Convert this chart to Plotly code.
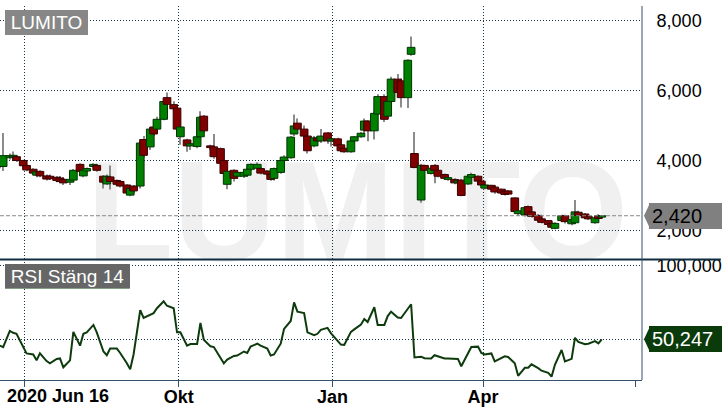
import pandas as pd
import plotly.graph_objects as go

# ---------------- data ----------------
# one sample every second trading day, 2020-06-16 .. 2021-06-11
dates = pd.bdate_range("2020-06-16", "2021-06-11")[::2]

open_ = [3940, 3830, 4080, 4100, 4110, 4000, 3860, 3750, 3580, 3690,
         3560, 3550, 3520, 3500, 3460, 3380, 3440, 3890, 3560, 3700,
         3830, 3860, 3550, 3330, 3530, 3430, 3400, 3300, 3010, 3270,
         3270, 4600, 4390, 4960, 4900, 5180, 5800, 5600, 5500, 4680,
         4590, 4420, 4400, 4680, 5270, 4420, 4390, 4340, 4000, 3320,
         3720, 3550, 3550, 3580, 3750, 3780, 3770, 3700, 3600, 3490,
         3660, 4000, 4080, 4760, 5070, 4900, 4700, 4420, 4640, 4560,
         4790, 4560, 4620, 4450, 4350, 4250, 4560, 4680, 4870, 5130,
         4850, 5330, 5830, 5270, 5690, 6330, 6280, 5800, 7040, 4200,
         2870, 3860, 3630, 3860, 3720, 3600, 3460, 3460, 3360, 3440,
         3330, 3520, 3550, 3410, 3210, 3290, 3240, 3180, 3120, 3130,
         2930, 2480, 2440, 2680, 2530, 2430, 2330, 2280, 2200, 2060,
         2280, 2420, 2190, 2220, 2520, 2470, 2400, 2220, 2420, 2380]
high = [3980, 4790, 4200, 4260, 4150, 4020, 3880, 3780, 3700, 3720,
        3600, 3600, 3560, 3560, 3520, 3500, 3760, 3920, 3740, 3800,
        3920, 3880, 3580, 3600, 3860, 3460, 3420, 3320, 3230, 3300,
        4600, 4700, 4950, 5100, 5250, 5750, 5950, 5700, 5560, 5000,
        4620, 4520, 4720, 5410, 5300, 4450, 4760, 4380, 4030, 3720,
        3750, 3700, 3690, 3780, 3920, 3950, 3800, 3730, 3620, 3800,
        4050, 4150, 4700, 5320, 5200, 5000, 4750, 4700, 4700, 4900,
        4820, 4660, 4650, 4480, 4400, 4600, 4700, 4820, 5200, 5150,
        5400, 5900, 5900, 5750, 6400, 6480, 6350, 6900, 7550, 4820,
        3900, 3880, 3800, 3900, 3750, 3630, 3550, 3490, 3450, 3480,
        3580, 3650, 3580, 3440, 3330, 3310, 3270, 3200, 3150, 3160,
        2950, 2580, 2700, 2710, 2560, 2460, 2360, 2300, 2230, 2230,
        2450, 2450, 2350, 2870, 2560, 2500, 2430, 2380, 2460, 2440]
low = [3780, 3700, 4030, 4050, 3960, 3800, 3690, 3600, 3520, 3520,
       3430, 3440, 3380, 3360, 3300, 3300, 3400, 3660, 3520, 3680,
       3800, 3680, 3200, 3300, 3170, 3280, 3230, 3040, 2980, 3060,
       3200, 4080, 4300, 4700, 4850, 5150, 5550, 5400, 4850, 4450,
       4250, 4300, 4350, 4650, 4800, 4300, 4050, 3880, 3600, 3180,
       3400, 3480, 3500, 3540, 3700, 3750, 3600, 3570, 3420, 3430,
       3620, 3980, 4050, 4700, 4850, 4650, 4200, 4380, 4500, 4500,
       4480, 4400, 4380, 4250, 4220, 4220, 4520, 4650, 4750, 4550,
       4600, 5300, 5100, 5200, 5650, 5900, 5520, 5500, 7000, 3780,
       2790, 3680, 3600, 3350, 3520, 3450, 3420, 3320, 3330, 2980,
       3300, 3490, 3380, 3270, 3180, 3150, 3050, 3040, 3000, 3010,
       2500, 2420, 2400, 2420, 2360, 2250, 2200, 2130, 2030, 2030,
       2250, 2200, 2150, 2190, 2400, 2330, 2300, 2190, 2310, 2360]
close = [3830, 4140, 4140, 4150, 4000, 3850, 3730, 3640, 3680, 3560,
         3470, 3480, 3430, 3400, 3360, 3460, 3720, 3690, 3720, 3770,
         3890, 3720, 3380, 3550, 3400, 3320, 3270, 3070, 3200, 3130,
         4500, 4150, 4900, 4760, 5180, 5690, 5610, 5480, 4900, 4960,
         4420, 4480, 4680, 5240, 4850, 4370, 4110, 3920, 3630, 3690,
         3490, 3660, 3660, 3750, 3890, 3890, 3640, 3610, 3460, 3770,
         4000, 4100, 4670, 4990, 4900, 4700, 4280, 4650, 4560, 4700,
         4560, 4620, 4420, 4280, 4250, 4560, 4680, 4780, 5130, 4850,
         5350, 5830, 5180, 5690, 6330, 5950, 5800, 6870, 7240, 3800,
         3860, 3720, 3780, 3720, 3550, 3490, 3510, 3360, 3420, 3000,
         3550, 3600, 3410, 3300, 3300, 3180, 3100, 3070, 3030, 3040,
         2540, 2560, 2650, 2450, 2400, 2290, 2230, 2170, 2090, 2200,
         2420, 2250, 2310, 2530, 2430, 2360, 2330, 2360, 2340, 2420]
rsi = [46, 45, 56, 54.7, 54, 45, 40.7, 40, 36, 40.7,
       35.5, 34, 37, 37.3, 31.3, 36, 55.3, 46, 54, 55,
       60, 55, 42, 39.5, 44, 44, 41, 34, 30, 40,
       70, 64.7, 67, 68, 71.3, 76, 73, 71.3, 55, 55,
       46, 47, 47, 61.3, 50, 45.5, 45, 38, 34, 36.5,
       39, 39.3, 42, 41, 45.3, 47.3, 46, 44, 39.3, 40,
       47.3, 57.3, 62.7, 75.3, 69, 68, 55, 53, 54, 56.7,
       58, 54.5, 49.3, 46.7, 46.5, 55.3, 57, 60.3, 64, 62,
       72, 60, 60, 66, 69, 65, 64.7, 71.3, 74, 38,
       38.5, 37.5, 37.3, 39.5, 38.7, 37.3, 37.3, 37.3, 37, 32,
       40.5, 45, 45.3, 41, 40, 40.7, 35.3, 37.8, 38.7, 38.3,
       34, 25.5, 31, 31, 33.3, 30.7, 29, 27.5, 25, 33,
       43, 35.3, 37, 51.3, 48.5, 47, 47.3, 49, 47.5, 50.247]

price_ticks = [2000, 4000, 6000, 8000]
price_tick_text = ["2,000", "4,000", "6,000", "8,000"]
rsi_ticks = [50, 100]
rsi_tick_text = ["50,000", "100,000"]
x_ticks = ["2020-07-01", "2020-10-01", "2021-01-01", "2021-04-01"]
x_tick_text = ["", "<b>Okt</b>", "<b>Jan</b>", "<b>Apr</b>"]
start_label = "2020 Jun 16"
name = "LUMITO"
rsi_name = "RSI Stäng 14"

# ---------------- figure ----------------
n = len(close)
dates = dates[:n]
DAY = 86400000
up = [c >= o for o, c in zip(open_, close)]
body_base = [min(o, c) for o, c in zip(open_, close)]
body_h = [abs(c - o) for o, c in zip(open_, close)]
wick_h = [h - l for h, l in zip(high, low)]
body_fill = ["#008000" if u else "#800000" for u in up]
body_line = ["#003300" if u else "#3a0000" for u in up]

GRID = "#163447"
NAVY = "#34506b"
FONT = "Liberation Sans, Arial, sans-serif"
PRICE_BADGE = "#808080"
RSI_BADGE = "#0b3a0b"

fig = go.Figure()
fig.add_trace(go.Bar(x=dates, y=wick_h, base=low, width=0.6 * DAY,
                     marker=dict(color="#8c8c8c", line=dict(width=0)),
                     xaxis="x", yaxis="y", hoverinfo="skip"))
fig.add_trace(go.Bar(x=dates, y=body_h, base=body_base, width=4.6 * DAY,
                     marker=dict(color=body_fill, line=dict(color=body_line, width=1)),
                     xaxis="x", yaxis="y"))
fig.add_trace(go.Scatter(x=dates, y=rsi, mode="lines",
                         line=dict(color="#0d3b0d", width=2),
                         xaxis="x2", yaxis="y2"))

H = 380.0  # plot height in px
W = 643.0  # plot width in px
P_RANGE = [1155, 8423]
R_RANGE = [22.7, 102.7]
P_H = 258.0
R_H = 120.0

fig.update_layout(
    width=722, height=411, autosize=False,
    margin=dict(l=0, r=79, t=0, b=31, pad=0),
    paper_bgcolor="white", plot_bgcolor="white",
    showlegend=False, barmode="overlay",
    font=dict(family=FONT, color="black", size=18),
    xaxis=dict(domain=[0, 1], anchor="y", type="date",
               range=["2020-06-16 03:00", "2021-07-05 02:00"],
               tickmode="array", tickvals=x_ticks, showticklabels=False,
               showgrid=True, gridcolor=GRID, griddash="1px,2px", gridwidth=1,
               zeroline=False, showline=False, ticks=""),
    xaxis2=dict(domain=[0, 1], anchor="y2", type="date", matches="x",
                tickmode="array", tickvals=x_ticks, ticktext=x_tick_text,
                tickfont=dict(size=18, color="black", family=FONT),
                ticklabelstandoff=-6,
                showgrid=True, gridcolor=GRID, griddash="1px,2px", gridwidth=1,
                zeroline=False, showline=True, linecolor=NAVY, linewidth=1,
                ticks="outside", ticklen=6, tickcolor=NAVY,
                minor=dict(tickmode="array", tickvals=["2021-07-01"], ticks="outside",
                           ticklen=6, tickcolor=NAVY, showgrid=False)),
    yaxis=dict(domain=[(H - P_H) / H, 1], anchor="x", side="right",
               range=P_RANGE, tickmode="array", tickvals=price_ticks,
               ticktext=price_tick_text, showgrid=True, gridcolor=GRID,
               griddash="1px,2px", zeroline=False, showline=False,
               ticks="outside", ticklen=10, tickcolor="rgba(0,0,0,0)",
               tickfont=dict(size=18, color="black")),
    yaxis2=dict(domain=[0, R_H / H], anchor="x2", side="right",
                range=R_RANGE, tickmode="array", tickvals=rsi_ticks,
                ticktext=rsi_tick_text, showgrid=True, gridcolor=GRID,
                griddash="1px,2px", zeroline=False, showline=False,
                ticks="outside", ticklen=10, tickcolor="rgba(0,0,0,0)",
                tickfont=dict(size=18, color="black")),
)

# half height of the value badges (13 px) expressed in axis units
p_half = 13 * (P_RANGE[1] - P_RANGE[0]) / P_H
r_half = 13 * (R_RANGE[1] - R_RANGE[0]) / R_H
tip_x, flat_x = 645 / W, 651 / W


def tip_path(v, half):
    return f"M {tip_x},{v} L {flat_x},{v + half} L {flat_x},{v - half} Z"


shapes = [
    # watermark
    dict(type="rect", xref="paper", yref="paper", layer="below",
         x0=88 / W, x1=628 / W, y0=(H - 250) / H, y1=(H - 142) / H,
         line=dict(width=0), fillcolor="rgba(0,0,0,0)",
         label=dict(text=name, textposition="middle center",
                    font=dict(size=142, color="#f0f0f0", family=FONT, weight="bold"))),
    # last price dashed line
    dict(type="line", xref="paper", yref="y", x0=0, x1=1, y0=close[-1], y1=close[-1],
         line=dict(color="#8a8a8a", width=1, dash="4px,2px")),
    # pane separator
    dict(type="line", xref="paper", yref="paper", x0=0, x1=722 / W,
         y0=(H - 257.5) / H, y1=(H - 257.5) / H, line=dict(color="#0f2d40", width=2)),
    # right frame line
    dict(type="line", xref="paper", yref="paper", x0=1, x1=1, y0=0, y1=1,
         line=dict(color=NAVY, width=1)),
    # underline of RSI label
    dict(type="line", xref="paper", yref="paper", x0=5 / W, x1=130 / W,
         y0=(H - 286) / H, y1=(H - 286) / H, line=dict(color="#0b3d0b", width=2)),
    # pointed left ends of the value badges
    dict(type="path", xref="paper", yref="y", path=tip_path(close[-1], p_half),
         fillcolor=PRICE_BADGE, line=dict(width=0), layer="above"),
    dict(type="path", xref="paper", yref="y2", path=tip_path(rsi[-1], r_half),
         fillcolor=RSI_BADGE, line=dict(width=0), layer="above"),
]
fig.update_layout(shapes=shapes)

annotations = [
    dict(text=name, xref="paper", yref="paper", x=5 / W, y=(H - 4) / H,
         xanchor="left", yanchor="top", showarrow=False, bgcolor="#878787",
         width=83, height=25, borderpad=0, borderwidth=0,
         font=dict(size=19, color="white", family=FONT)),
    dict(text=rsi_name, xref="paper", yref="paper", x=5 / W, y=(H - 262) / H,
         xanchor="left", yanchor="top", showarrow=False, bgcolor="#666666",
         width=125, height=24, borderpad=0, borderwidth=0,
         font=dict(size=19, color="white", family=FONT)),
    dict(text="<b>" + start_label + "</b>", xref="paper", yref="paper",
         x=5 / W, y=(H - 396) / H, xanchor="left", yanchor="middle",
         showarrow=False, font=dict(size=18, color="black", family=FONT)),
    dict(text=f"{close[-1]:,}", xref="paper", yref="y", x=650 / W, y=close[-1],
         xanchor="left", yanchor="middle", showarrow=False, bgcolor=PRICE_BADGE,
         width=70, height=20, borderpad=3, borderwidth=0, align="left",
         font=dict(size=20, color="black", family=FONT)),
    dict(text=f"{rsi[-1]:.3f}".replace(".", ","), xref="paper", yref="y2",
         x=650 / W, y=rsi[-1], xanchor="left", yanchor="middle", showarrow=False,
         bgcolor=RSI_BADGE, width=70, height=20, borderpad=3, borderwidth=0,
         align="left", font=dict(size=20, color="white", family=FONT)),
]
fig.update_layout(annotations=annotations)

fig.write_html("out.html", config={"displayModeBar": False},
               post_script="document.body.style.margin='0px';"
                           "document.body.style.padding='0px';"
                           "document.body.style.overflow='hidden';")
